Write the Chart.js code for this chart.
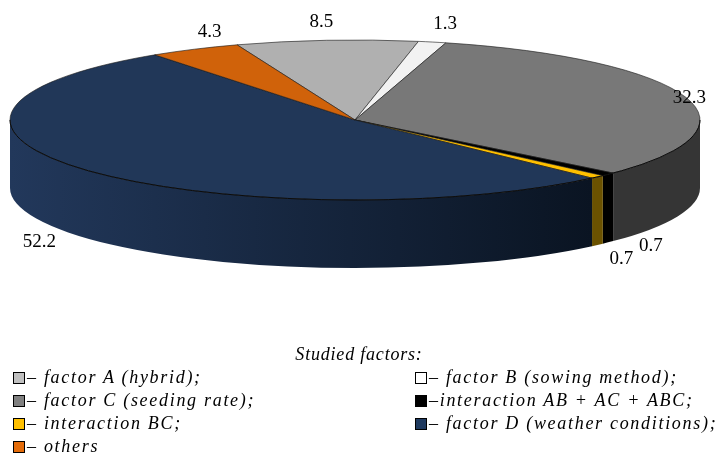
<!DOCTYPE html>
<html>
<head>
<meta charset="utf-8">
<script src="https://cdn.jsdelivr.net/npm/chart.js@4.4.1/dist/chart.umd.min.js"></script>
<style>
  html, body { margin: 0; padding: 0; background: #fff; }
  #wrap { position: relative; width: 718px; height: 453px; overflow: hidden; }
  #pie { position: absolute; left: 0; top: 0; }
  #title {
    position: absolute; left: 0; top: 344px; width: 718px;
    text-align: center; line-height: 22px;
    font: italic 18px "Liberation Serif", serif; letter-spacing: 0.8px; color: #000;
  }
  #legend {
    position: absolute; left: 13px; top: 366px;
    display: grid; grid-template-columns: 402px auto; grid-auto-rows: 23px;
    font: italic 18px "Liberation Serif", serif; letter-spacing: 1.7px; color: #000;
    white-space: nowrap;
  }
  #legend .item { line-height: 23px; }
  #legend .box {
    display: inline-block; width: 10px; height: 10px; border: 1px solid #000;
    vertical-align: -1px; margin-right: 2px;
  }
</style>
</head>
<body>
<div id="wrap">
  <canvas id="pie" width="718" height="453"></canvas>
  <div id="title">Studied factors:</div>
  <div id="legend"></div>
</div>
<script>
// Shares of the studied factors, %, clockwise from the top
const factors = ['factor A (hybrid)', 'factor B (sowing method)', 'factor C (seeding rate)',
  'interaction AB + AC + ABC', 'interaction BC', 'factor D (weather conditions)', 'others'];
const shares = [8.5, 1.3, 32.3, 0.7, 0.7, 52.2, 4.3];
const legendText = ['– factor A (hybrid);', '– factor B (sowing method);', '– factor C (seeding rate);',
  '–interaction AB + AC + ABC;', '– interaction BC;', '– factor D (weather conditions);', '– others'];

// Colours: top face, side wall, legend swatch
const topColors = ['#b0b0b0', '#f2f2f2', '#787878', '#000000', '#ffc000', '#213758', '#d0620a'];
const sideColors = ['#7a7a7a', '#bbbbbb', '#353535', '#000000', '#6b5200', null, '#8a4006'];
const swatchColors = ['#c0c0c0', '#ffffff', '#808080', '#000000', '#ffc000', '#1f3a5f', '#e46c0a'];

// small nudges for the value labels (px)
const labelNudge = [[-5, 0], [12, 0], [0, 6], [40, -9], [21, 1], [-46, -8], [17, -1]];

const tilt = 80 / 345;
const depth = 68;

// 3D look: side walls under the front half, then a squashed top face
const pie3d = {
  id: 'pie3d',
  beforeDatasetDraw(chart) {
    const ctx = chart.ctx;
    const arcs = chart.getDatasetMeta(0).data;
    const cx = arcs[0].x, cy = arcs[0].y, r = arcs[0].outerRadius;
    const ry = r * tilt;

    arcs.forEach((arc, i) => {
      const a0 = Math.max(arc.startAngle, 0);
      const a1 = Math.min(arc.endAngle, Math.PI);
      if (a1 <= a0) return;
      let fill = sideColors[i];
      if (!fill) {
        fill = ctx.createLinearGradient(cx - r, 0, cx + r * Math.cos(a0), 0);
        fill.addColorStop(0, '#22385b');
        fill.addColorStop(1, '#0a1422');
      }
      ctx.beginPath();
      ctx.ellipse(cx, cy, r, ry, 0, a0, a1);
      ctx.ellipse(cx, cy + depth, r, ry, 0, a1, a0, true);
      ctx.closePath();
      ctx.fillStyle = fill;
      ctx.fill();
    });

    ctx.save();
    ctx.translate(cx, cy);
    ctx.scale(1, tilt);
    ctx.translate(-cx, -cy);
  },
  afterDatasetDraw(chart) {
    const ctx = chart.ctx;
    ctx.restore();
    const arcs = chart.getDatasetMeta(0).data;
    const cx = arcs[0].x, cy = arcs[0].y, r = arcs[0].outerRadius;
    const ry = r * tilt;

    // rim between top face and wall
    ctx.save();
    ctx.beginPath();
    ctx.ellipse(cx, cy, r, ry, 0, 0, Math.PI);
    ctx.strokeStyle = '#0b0b0b';
    ctx.lineWidth = 1;
    ctx.stroke();

    // value labels
    ctx.font = '19px "Liberation Serif", serif';
    ctx.fillStyle = '#000';
    ctx.textAlign = 'center';
    ctx.textBaseline = 'middle';
    arcs.forEach((arc, i) => {
      const mid = (arc.startAngle + arc.endAngle) / 2;
      const s = Math.sin(mid), c = Math.cos(mid);
      const x = cx + (r + 4) * c + labelNudge[i][0];
      const y = cy + (ry + 18) * s + (s > 0 ? depth : 0) + labelNudge[i][1];
      ctx.fillText(shares[i].toFixed(1), x, y);
    });
    ctx.restore();
  }
};

const ctx = document.getElementById('pie').getContext('2d');
new Chart(ctx, {
  type: 'pie',
  data: {
    labels: factors,
    datasets: [{
      data: shares,
      backgroundColor: topColors,
      borderColor: '#1a1a1a',
      borderWidth: 1,
      radius: 345,
      clip: false
    }]
  },
  options: {
    responsive: false,
    animation: false,
    events: [],
    rotation: -20,
    layout: { padding: { left: 0, right: 8, top: 0, bottom: 213 } },
    plugins: {
      legend: { display: false },
      tooltip: { enabled: false }
    }
  },
  plugins: [pie3d]
});

// legend: two columns, row by row in data order
const legend = document.getElementById('legend');
legendText.forEach((t, i) => {
  const item = document.createElement('div');
  item.className = 'item';
  const box = document.createElement('span');
  box.className = 'box';
  box.style.background = swatchColors[i];
  item.appendChild(box);
  item.appendChild(document.createTextNode(t));
  legend.appendChild(item);
});
</script>
</body>
</html>
